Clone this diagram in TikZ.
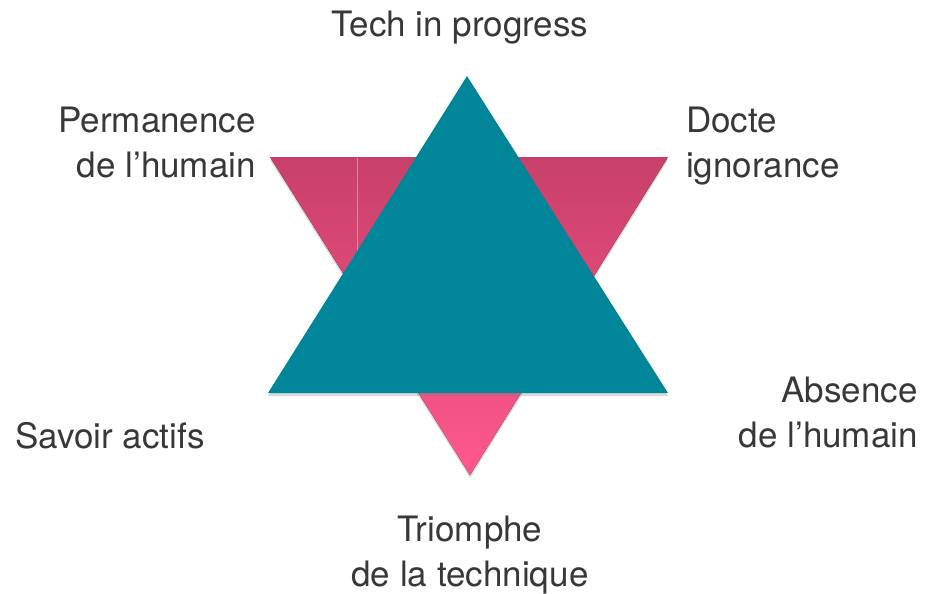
\documentclass[tikz,border=0pt]{standalone}
\usepackage{fontspec}
\setmainfont{TeX Gyre Heros}
\usetikzlibrary{shadows}

\definecolor{tealstar}{RGB}{0,134,152}
\definecolor{pinktop}{RGB}{200,64,106}
\definecolor{pinkbottom}{RGB}{255,88,140}
\definecolor{labelgray}{RGB}{56,56,56}

\begin{document}
\begin{tikzpicture}[x=1pt, y=-1pt]
    \tikzset{
        lbl/.style={font=\fontsize{35}{45}\selectfont, text=labelgray, inner sep=0pt},
        tri/.style={drop shadow={shadow xshift=0pt, shadow yshift=-3pt, opacity=0.3}}
        }
    \useasboundingbox (0,0) rectangle (926,594);

    % corners of both triangles
    \coordinate (up-top) at (467,76);
    \coordinate (up-left) at (268,393);
    \coordinate (up-right) at (668,393);
    \coordinate (down-left) at (270,157);
    \coordinate (down-right) at (668,157);
    \coordinate (down-tip) at (470,475);

    % pink triangle pointing down
    \fill [tri, top color=pinktop, bottom color=pinkbottom]
        (down-left) -- (down-right) -- (down-tip) -- cycle;
    \coordinate (seam-a) at (357,158);
    \coordinate (seam-b) at (357,292);
    \draw [white, opacity=0.35, line width=0.8pt] (seam-a) -- (seam-b);

    % teal triangle pointing up
    \fill [tri, tealstar] (up-top) -- (up-left) -- (up-right) -- cycle;

    % labels
    \node (tech) [lbl, anchor=north] at (460,11) {Tech in progress};
    \node (perm) [lbl, anchor=north east, align=right] at (256,107) {Permanence\\de l’humain};
    \node (docte) [lbl, anchor=north west, align=left] at (686,107) {Docte\\ignorance};
    \node (absence) [lbl, anchor=north east, align=right] at (918,377) {Absence\\de l’humain};
    \node (savoir) [lbl, anchor=base west] at (15,448) {Savoir actifs};
    \node (triomphe) [lbl, anchor=north, align=center] at (470,516) {Triomphe\\de la technique};
\end{tikzpicture}
\end{document}
